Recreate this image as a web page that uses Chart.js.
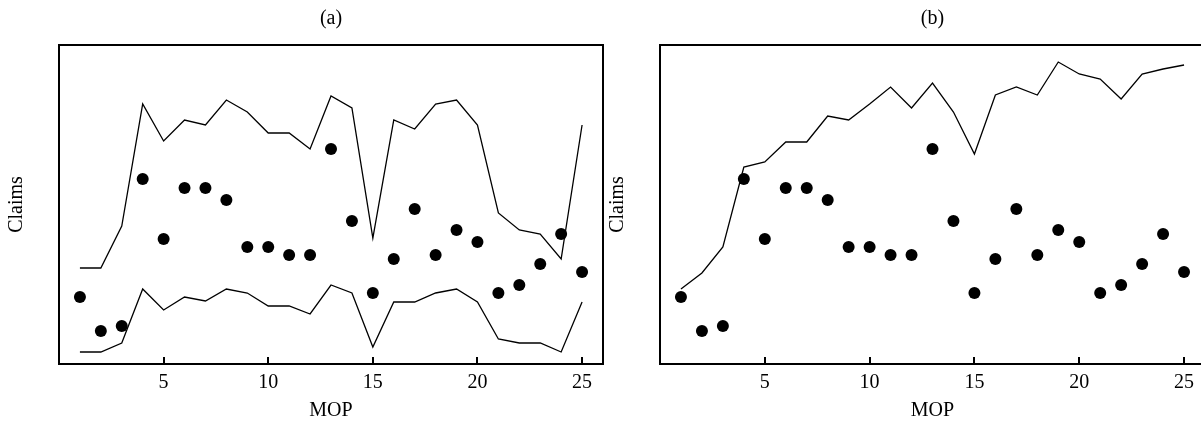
<!DOCTYPE html>
<html>
<head>
<meta charset="utf-8">
<script src="https://cdn.jsdelivr.net/npm/chart.js@4/dist/chart.umd.min.js"></script>
<style>
  html, body { margin: 0; padding: 0; background: #fff; width: 1201px; height: 427px; overflow: hidden; position: relative; }
  canvas { position: absolute; top: 0; }
  #ca { left: 0; }
  #cb { left: 601px; }
</style>
</head>
<body>
<canvas id="ca" width="620" height="427"></canvas>
<canvas id="cb" width="620" height="427"></canvas>
<script>
// ---- data (arbitrary claim units) ----
const mop = [1,2,3,4,5,6,7,8,9,10,11,12,13,14,15,16,17,18,19,20,21,22,23,24,25];
const claims = [67,33,38,185,125,176,176,164,117,117,109,109,215,143,71,105,155,109,134,122,71,79,100,130,92];
const upperA = [96,96,138,260,223,244,239,264,252,231,231,215,268,256,126,244,235,260,264,239,151,134,130,105,239];
const lowerA = [12,12,21,75,54,67,63,75,71,58,58,50,79,71,17,62,62,71,75,62,25,21,21,12,62];
const upperB = [75,91,117,197,202,222,222,248,244,260,277,256,281,252,210,269,277,269,302,290,285,265,290,295,299];
const xTicks = [5,10,15,20,25];
const titles = ['(a)', '(b)'];

Chart.defaults.font.family = "'Liberation Serif', 'Times New Roman', serif";
Chart.defaults.color = '#000';

const frame = {
  id: 'frame',
  afterDraw(chart) {
    const {ctx, chartArea: a, scales: {x}} = chart;
    ctx.save();
    ctx.strokeStyle = '#000';
    ctx.lineWidth = 2;
    ctx.strokeRect(a.left, a.top, a.right - a.left, a.bottom - a.top);
    ctx.lineWidth = 2;
    x.ticks.forEach(t => {
      const px = Math.round(x.getPixelForValue(t.value));
      ctx.beginPath();
      ctx.moveTo(px, a.bottom);
      ctx.lineTo(px, a.bottom - 7);
      ctx.stroke();
    });
    ctx.restore();
  }
};

function pts(ys) { return mop.map((m, i) => ({x: m, y: ys[i]})); }

function lineSet(ys) {
  return {
    type: 'line', data: pts(ys), borderColor: '#000', borderWidth: 1.3,
    pointRadius: 0, fill: false, tension: 0
  };
}

function makeChart(id, title, bands, padRight) {
  const datasets = bands.map(lineSet);
  datasets.push({
    type: 'scatter', data: pts(claims), backgroundColor: '#000', borderColor: '#000',
    pointRadius: 6, pointHoverRadius: 6, borderWidth: 0
  });
  return new Chart(document.getElementById(id), {
    type: 'scatter',
    data: { datasets },
    options: {
      responsive: false,
      animation: false,
      events: [],
      layout: { padding: { left: 0, right: padRight, top: 0, bottom: 0 } },
      plugins: {
        legend: { display: false },
        tooltip: { enabled: false },
        title: {
          display: true, text: title, fullSize: false, color: '#000',
          font: { size: 20, weight: 'normal' },
          padding: { top: 7, bottom: 14 }
        }
      },
      scales: {
        x: {
          type: 'linear', position: 'bottom', min: 0, max: 26,
          grid: { display: false, drawTicks: false },
          border: { display: false },
          afterBuildTicks: s => { s.ticks = xTicks.map(v => ({ value: v })); },
          afterFit: s => { s.height = 63; },
          ticks: { font: { size: 20 }, padding: 7, maxRotation: 0, color: '#000' },
          title: { display: true, text: 'MOP', font: { size: 20 }, color: '#000', padding: { top: 0, bottom: 4 } }
        },
        y: {
          type: 'linear', position: 'left', min: 0, max: 319,
          grid: { display: false, drawTicks: false },
          border: { display: false },
          ticks: { display: false },
          afterFit: s => { s.width = 59; },
          title: { display: true, text: 'Claims', font: { size: 20 }, color: '#000', padding: { top: 5, bottom: 0 } }
        }
      }
    },
    plugins: [frame]
  });
}

makeChart('ca', titles[0], [upperA, lowerA], 17);
makeChart('cb', titles[1], [upperB], 16);
</script>
</body>
</html>
